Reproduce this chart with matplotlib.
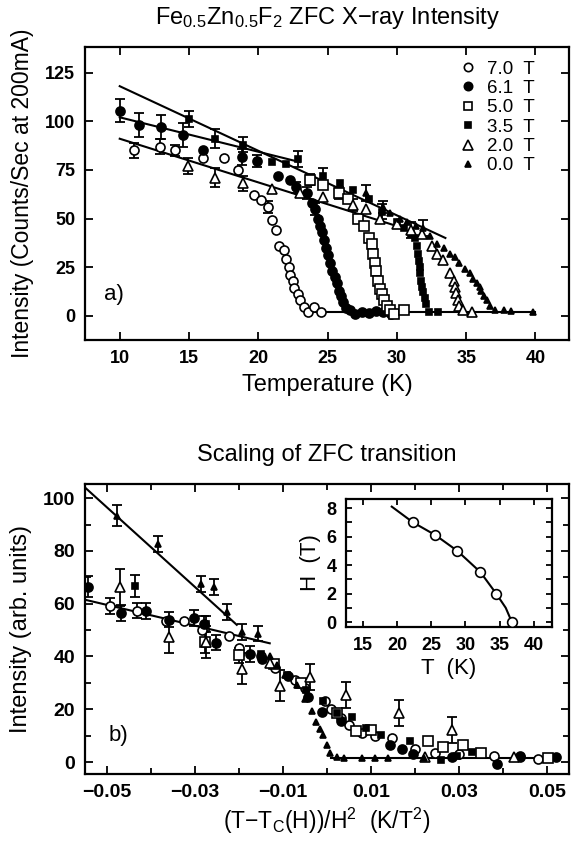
import matplotlib
matplotlib.use('Agg')
import matplotlib.pyplot as plt
import numpy as np
from matplotlib.ticker import MultipleLocator
from matplotlib.lines import Line2D

plt.rcParams['font.family'] = ['Liberation Sans', 'DejaVu Sans']
plt.rcParams['mathtext.default'] = 'regular'

# ---------------- panel a: intensity vs temperature ----------------
T70 = [11.0, 12.9, 14.0, 16.0, 17.5, 18.5, 19.7, 20.2, 20.7, 21.0, 21.3, 21.5, 21.85, 22.0, 22.2,
       22.3, 22.5, 22.6, 22.9, 23.0, 23.3, 23.6, 24.0, 24.5]
I70 = [85, 87, 85, 81, 81, 75, 62, 59.5, 56, 49, 44, 36, 34, 29, 25, 21, 18, 14.5, 11, 8, 4.5, 2, 4.5, 2]
E70 = [4, 4, 3, 0, 0, 0, 0, 0, 3, 0, 0, 0, 0, 0, 0, 0, 0, 0, 0, 0, 0, 0, 0, 0]

T61 = [10.0, 11.4, 13.0, 14.6, 16.0, 18.8, 19.9, 21.4, 22.3, 22.75, 23.5, 23.9, 24.1, 24.3, 24.45,
       24.6, 24.75, 24.9, 25.05, 25.2, 25.35, 25.5, 25.65, 25.8, 25.95, 26.1, 26.3, 26.6, 27.0, 27.5,
       28.0, 28.5, 29.0, 29.6]
I61 = [105.5, 98, 97, 93, 85, 81.5, 79.5, 72, 70, 66, 63, 58, 55, 50, 46, 43, 39, 35, 31, 27, 23, 20,
       17, 13, 10, 7, 4, 3, 1, 2, 1.5, 2.5, 2, 1]
E61 = [6, 6, 6, 6, 0, 4, 3, 0, 0, 3, 3, 0, 3, 0, 0, 0, 0, 0, 0, 0, 0, 0, 0, 0, 0, 0, 0, 0, 0, 0,
       0, 0, 0, 0]

T50 = [23.7, 24.7, 25.8, 26.5, 27.2, 27.6, 28.0, 28.2, 28.3, 28.4, 28.5, 28.65, 28.8, 28.9, 29.1,
       29.3, 29.5, 29.8, 30.5]
I50 = [70, 67, 63, 60, 50, 46, 40, 37, 32, 27, 23, 18, 14, 11, 8, 5, 3, 1, 3]
E50 = [3, 0, 3, 0, 0, 0, 0, 0, 0, 0, 0, 0, 0, 0, 0, 0, 0, 0, 0]

T35 = [15.0, 16.9, 18.9, 21.0, 22.0, 22.9, 24.7, 25.9, 26.8, 28.0, 28.9, 30.0, 30.5, 31.0, 31.3,
       31.45, 31.5, 31.6, 31.65, 31.7, 31.75, 31.8, 31.9, 32.0, 32.1, 32.3, 33.0]
I35 = [101, 91, 88, 79, 78, 80.5, 72, 68, 64.5, 60, 53.5, 48, 45, 42, 40, 36, 32, 28, 25, 22, 18,
       15, 12, 9, 6, 2, 2]
E35 = [4, 5, 4, 0, 0, 4, 4, 0, 0, 0, 4, 0, 0, 0, 0, 0, 0, 0, 0, 0, 0, 0, 0, 0, 0, 0, 0]

T20 = [14.9, 16.9, 18.9, 21.0, 23.0, 24.7, 26.8, 27.8, 28.8, 30.0, 31.0, 31.8, 32.5, 32.9, 33.35,
       33.8, 34.1, 34.2, 34.3, 34.4, 34.5, 34.8, 35.4]
I20 = [77, 71, 68, 65, 63, 61, 57, 55, 50, 47, 44, 42, 36, 32, 28.5, 22, 18, 15, 11.5, 8, 5, 3, 2]
E20 = [4, 5, 4, 0, 0, 0, 3, 0, 0, 0, 4, 0, 0, 0, 0, 0, 0, 0, 0, 0, 0, 0, 0]

T00 = [27.8, 29.0, 29.5, 30.2, 30.7, 31.4, 31.9, 32.4, 32.9, 33.4, 33.8, 34.2, 34.5, 34.9, 35.3,
       35.5, 35.75, 36.0, 36.1, 36.3, 36.5, 36.7, 37.1, 37.7, 38.2, 39.85]
I00 = [63, 56, 53, 50, 48, 46, 45, 41, 37, 35, 32, 30, 27, 24, 22, 19, 16.7, 15, 13, 10, 8, 5, 3,
       3, 2.5, 2]
E00 = [4, 3, 0, 0, 0, 0, 4, 0, 0, 0, 0, 0, 0, 0, 0, 0, 0, 0, 0, 0, 0, 0, 0, 0, 0, 0]

# fit lines (a)
fitA_T = [[10, 33.5], [10, 23.0], [10, 30.5], [23.5, 40.0]]
fitA_I = [[118, 40], [102, 79], [91, 45], [2, 2]]

# ---------------- panel b: scaling plot ----------------
X70 = [-0.0493, -0.0432, -0.0366, -0.0325, -0.0283, -0.0222, -0.020, -0.015, -0.0117, -0.0072,
       -0.005, -0.0005, 0.001, 0.0033, 0.005, 0.0079, 0.011, 0.0147, 0.020, 0.0245, 0.030, 0.038,
       0.044, 0.048]
Y70 = [59.2, 57.4, 53.3, 53.3, 50.2, 47.6, 43.2, 40, 35.6, 31.1, 28, 23, 20, 16.7, 14, 11, 10, 9.1,
       5, 3.5, 3, 2.2, 2, 1]
EB70 = [3, 3, 0, 0, 0, 0, 0, 0, 0, 0, 0, 0, 0, 0, 0, 0, 0, 0, 0, 0, 0, 0, 0, 0]

X61 = [-0.0543, -0.0468, -0.0411, -0.036, -0.0302, -0.0279, -0.0253, -0.020, -0.0175, -0.0148,
       -0.0088, -0.0043, -0.0012, 0.0033, 0.0143, 0.017, 0.0196, 0.0284, 0.0386, 0.0439, 0.052]
Y61 = [66.4, 56.5, 57.1, 54, 54.7, 52.2, 45.3, 40.9, 40.9, 39, 32.7, 24.5, 18.9, 15.7, 6.3, 5, 3.1,
       1.9, -0.6, 2.2, 1.9]
EB61 = [4, 3, 3, 3, 3, 3, 3, 0, 3, 0, 0, 0, 0, 0, 0, 0, 0, 0, 0, 0, 0]

X50 = [-0.0277, -0.020, -0.012, -0.006, 0.0022, 0.0067, 0.010, 0.023, 0.0265, 0.031, 0.035, 0.0502]
Y50 = [45.5, 40.4, 37, 30, 18.5, 11.6, 12, 7.8, 5.8, 6.4, 3.5, 1.5]
EB50 = [4, 3, 0, 0, 0, 0, 0, 0, 0, 0, 0, 0]

X35 = [-0.0436, -0.0274, -0.0150, -0.0090, -0.0047, -0.0009, 0.0024, 0.0058, 0.0088, 0.0122,
       0.0189, 0.026, 0.0295, 0.033]
Y35 = [66.7, 52.2, 41, 33, 27.2, 23, 18.5, 17.2, 12.8, 10.3, 7.8, 0.9, 2.2, 4]
EB35 = [4, 3, 0, 0, 0, 0, 0, 0, 0, 0, 0, 0, 0, 0]

X20 = [-0.047, -0.036, -0.0274, -0.0194, -0.013, -0.0106, -0.0039, 0.0044, 0.0165, 0.0285,
       0.0223, 0.0425]
Y20 = [66.3, 47.4, 45.5, 35.4, 37.7, 29, 32.3, 25.4, 18.5, 12.2, 2, 2]
EB20 = [7, 6, 6, 6, 0, 6, 5, 5, 5, 5, 0, 0]

X00 = [-0.0478, -0.0385, -0.0286, -0.0256, -0.0228, -0.0194, -0.0156, -0.013, -0.0114, -0.0095,
       -0.0069, -0.005, -0.0035, -0.0024, -0.0015, -0.0008, 0.0, 0.0007, 0.0022, 0.004, 0.008,
       0.011, 0.014, 0.022]
Y00 = [93.3, 82.6, 67.5, 66.3, 56.9, 49.3, 48.7, 40, 36.7, 33, 29.1, 24, 19.5, 15.3, 12.5, 10.3,
       6.5, 3.4, 2.1, 1.5, 1.5, 1.5, 1.5, 1.5]
EB00 = [4, 3, 3, 3, 3, 3, 3, 0, 0, 0, 0, 0, 0, 0, 0, 0, 0, 0, 0, 0, 0, 0, 0, 0]

fitB_X = [[-0.055, -0.0205], [-0.055, -0.013], [0.001, 0.053]]
fitB_Y = [[104, 52], [61.5, 45], [1.5, 1.5]]

# inset: phase boundary
TC = [22.3, 25.6, 28.8, 32.2, 34.5, 36.8]
HC = [7.0, 6.1, 5.0, 3.5, 2.0, 0.0]
TC_line = [19.2, 22.3, 25.6, 28.8, 32.2, 34.5, 35.9, 36.8]
HC_line = [8.1, 7.0, 6.1, 5.0, 3.5, 2.0, 1.0, 0.0]

labels = ['7.0  T', '6.1  T', '5.0  T', '3.5  T', '2.0  T', '0.0  T']
markers = ['o', 'o', 's', 's', '^', '^']
filled = [False, True, False, True, False, True]
sizes = [6.5, 6.5, 6.5, 5.0, 7.0, 4.5]


def draw(ax, x, y, e, k):
    x, y, e = np.asarray(x), np.asarray(y), np.asarray(e)
    m = e > 0
    if m.any():
        ax.errorbar(x[m], y[m], yerr=e[m], fmt='none', ecolor='k', elinewidth=1.3,
                    capsize=3.5, capthick=1.3, zorder=2)
    ax.plot(x, y, ls='none', marker=markers[k], ms=sizes[k],
            mfc='k' if filled[k] else 'white', mec='k', mew=1.2, zorder=3)


def style(ax, fs=14):
    for s in ax.spines.values():
        s.set_linewidth(1.6)
    ax.tick_params(which='both', direction='in', top=True, right=True, width=1.3,
                   labelsize=fs, pad=7)
    ax.tick_params(which='major', length=6)
    ax.tick_params(which='minor', length=4)
    for t in ax.get_xticklabels() + ax.get_yticklabels():
        t.set_fontweight('bold')


fig = plt.figure(figsize=(5.71, 8.44), dpi=100)

# ---- panel a ----
axa = fig.add_axes([0.149, 0.597, 0.847, 0.347])
for tt, ii in zip(fitA_T, fitA_I):
    axa.plot(tt, ii, color='k', lw=1.5, zorder=1)
seriesA = [(T70, I70, E70), (T61, I61, E61), (T50, I50, E50),
           (T35, I35, E35), (T20, I20, E20), (T00, I00, E00)]
for k, (x, y, e) in enumerate(seriesA):
    draw(axa, x, y, e, k)
axa.set_xlim(7.5, 42.4)
axa.set_ylim(-12.5, 138)
axa.set_xticks([10, 15, 20, 25, 30, 35, 40])
axa.set_yticks([0, 25, 50, 75, 100, 125])
style(axa, fs=13)
axa.set_xlabel('Temperature (K)', fontsize=17, labelpad=5)
axa.set_ylabel('Intensity (Counts/Sec at 200mA)', fontsize=16.5, labelpad=8)
axa.text(9.6, 11, 'a)', fontsize=16, ha='center', va='center')
handles = [Line2D([], [], ls='none', marker=markers[k], ms=sizes[k] - 0.5,
                  mfc='k' if filled[k] else 'white', mec='k', mew=1.2) for k in range(6)]
axa.legend(handles, labels, loc='upper right', bbox_to_anchor=(0.93, 0.955), frameon=False,
           fontsize=13.5, labelspacing=0.12, handlelength=0.8, handletextpad=0.6,
           borderaxespad=0, borderpad=0)
fig.text(0.573, 1 - 18 / 844, 'Fe$_{0.5}$Zn$_{0.5}$F$_2$ ZFC X$-$ray Intensity',
         fontsize=17, ha='center', va='center')

# ---- panel b ----
axb = fig.add_axes([0.149, 0.083, 0.847, 0.344])
for xx, yy in zip(fitB_X, fitB_Y):
    axb.plot(xx, yy, color='k', lw=1.5, zorder=1)
seriesB = [(X70, Y70, EB70), (X61, Y61, EB61), (X50, Y50, EB50),
           (X35, Y35, EB35), (X20, Y20, EB20), (X00, Y00, EB00)]
for k, (x, y, e) in enumerate(seriesB):
    draw(axb, x, y, e, k)
axb.set_xlim(-0.055, 0.055)
axb.set_ylim(-4.5, 105.5)
axb.set_xticks([-0.05, -0.03, -0.01, 0.01, 0.03, 0.05])
axb.set_xticklabels(['\u22120.05', '\u22120.03', '\u22120.01', '0.01', '0.03', '0.05'])
axb.set_xticks([-0.04, -0.02, 0.0, 0.02, 0.04], minor=True)
axb.set_yticks([0, 20, 40, 60, 80, 100])
axb.yaxis.set_minor_locator(MultipleLocator(10))
style(axb, fs=14)
axb.set_xlabel('(T$-$T$_C$(H))/H$^2$  (K/T$^2$)', fontsize=16.5, labelpad=4)
axb.set_ylabel('Intensity (arb. units)', fontsize=17, labelpad=8)
axb.text(-0.0475, 10, 'b)', fontsize=16, ha='center', va='center')
fig.text(0.573, 1 - 455 / 844, 'Scaling of ZFC transition', fontsize=17,
         ha='center', va='center')

# ---- inset ----
axi = fig.add_axes([0.606, 0.257, 0.361, 0.152])
axi.plot(TC_line, HC_line, color='k', lw=1.5, zorder=1)
axi.plot(TC, HC, ls='none', marker='o', ms=7, mfc='white', mec='k', mew=1.2, zorder=3)
axi.set_xlim(12.5, 42.7)
axi.set_ylim(-0.35, 8.65)
axi.set_xticks([15, 20, 25, 30, 35, 40])
axi.set_yticks([0, 2, 4, 6, 8])
axi.yaxis.set_minor_locator(MultipleLocator(1))
style(axi, fs=13)
axi.tick_params(which='both', length=4)
axi.set_xlabel('T  (K)', fontsize=16, labelpad=3)
axi.set_ylabel('H  (T)', fontsize=16, labelpad=4)

fig.savefig('out.png', dpi=100)
